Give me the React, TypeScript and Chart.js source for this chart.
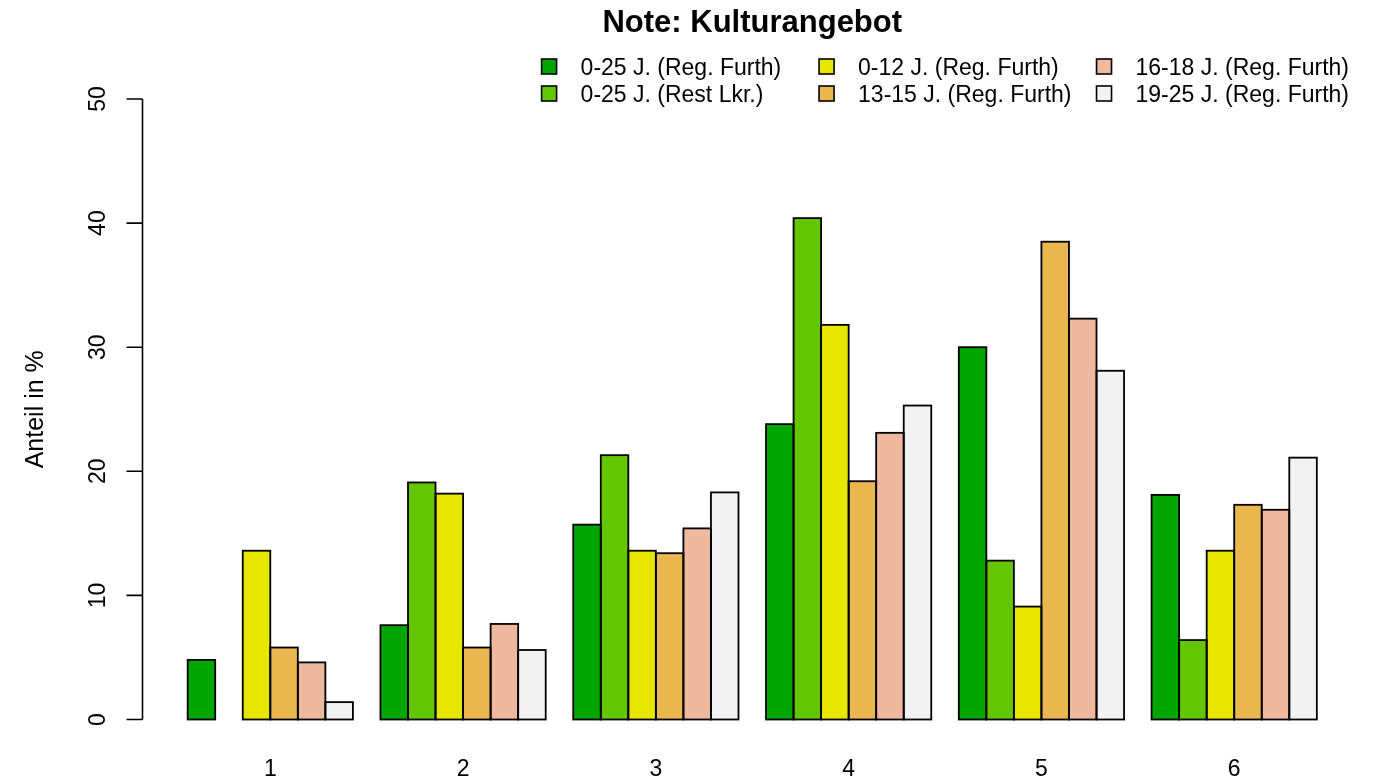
import React, { useEffect, useRef } from 'react';
import { Chart, registerables } from 'chart.js';

Chart.register(...registerables);

// ---- data ----
const categories = ['1', '2', '3', '4', '5', '6'];
const seriesLabels = [
  '0-25 J. (Reg. Furth)',
  '0-25 J. (Rest Lkr.)',
  '0-12 J. (Reg. Furth)',
  '13-15 J. (Reg. Furth)',
  '16-18 J. (Reg. Furth)',
  '19-25 J. (Reg. Furth)',
];
const seriesColors = ['#00A600', '#63C600', '#E6E600', '#EAB64E', '#EEB99F', '#F2F2F2'];
const furth0to25 = [4.8, 7.6, 15.7, 23.8, 30.0, 18.1];
const restLkr0to25 = [null, 19.1, 21.3, 40.4, 12.8, 6.4];
const furth0to12 = [13.6, 18.2, 13.6, 31.8, 9.1, 13.6];
const furth13to15 = [5.8, 5.8, 13.4, 19.2, 38.5, 17.3];
const furth16to18 = [4.6, 7.7, 15.4, 23.1, 32.3, 16.9];
const furth19to25 = [1.4, 5.6, 18.3, 25.3, 28.1, 21.1];
const seriesValues = [furth0to25, restLkr0to25, furth0to12, furth13to15, furth16to18, furth19to25];
const yTicks = [0, 10, 20, 30, 40, 50];
const chartTitle = 'Note: Kulturangebot';
const yAxisTitle = 'Anteil in %';

const FONT = '"Liberation Sans", Arial, Helvetica, sans-serif';

// R barplot geometry: 6 bars + 1 space per group, 4% extension of range
const barsPerGroup = seriesValues.length;
const groupUnits = barsPerGroup + 1;
const totalSpan = categories.length * groupUnits - 1; // from first bar left to last bar right
const sidePad = (barsPerGroup / 2 + 0.04 * totalSpan) / groupUnits;

const rPlugin = {
  id: 'rStyle',
  beforeDraw(chart: any) {
    const ctx = chart.ctx;
    ctx.save();
    ctx.fillStyle = '#ffffff';
    ctx.fillRect(0, 0, chart.width, chart.height);
    ctx.restore();
  },
  afterDatasetsDraw(chart: any) {
    const ctx = chart.ctx;
    ctx.save();
    ctx.strokeStyle = '#000000';
    ctx.lineWidth = 1.8;
    chart.data.datasets.forEach((ds: any, di: number) => {
      const meta = chart.getDatasetMeta(di);
      meta.data.forEach((el: any, i: number) => {
        const v = ds.data[i] && ds.data[i].y;
        if (v === null || v === undefined) return;
        const p = el.getProps(['x', 'y', 'base', 'width'], true);
        ctx.strokeRect(p.x - p.width / 2, p.y, p.width, p.base - p.y);
      });
    });
    ctx.restore();
  },
  afterDraw(chart: any) {
    const ctx = chart.ctx;
    const area = chart.chartArea;
    const ys = chart.scales.y;
    const xs = chart.scales.x;
    ctx.save();
    ctx.fillStyle = '#000';
    ctx.strokeStyle = '#000';
    ctx.lineWidth = 1.6;

    // y axis
    const y0 = ys.getPixelForValue(yTicks[0]);
    const y1 = ys.getPixelForValue(yTicks[yTicks.length - 1]);
    const ax = area.left;
    ctx.beginPath();
    ctx.moveTo(ax, y0);
    ctx.lineTo(ax, y1);
    yTicks.forEach((t) => {
      const py = ys.getPixelForValue(t);
      ctx.moveTo(ax, py);
      ctx.lineTo(ax - 16, py);
    });
    ctx.stroke();

    ctx.font = `23px ${FONT}`;
    ctx.textAlign = 'center';
    ctx.textBaseline = 'alphabetic';
    yTicks.forEach((t) => {
      const py = ys.getPixelForValue(t);
      ctx.save();
      ctx.translate(ax - 37.5, py);
      ctx.rotate(-Math.PI / 2);
      ctx.fillText(String(t), 0, 0);
      ctx.restore();
    });

    // y axis title
    ctx.font = `25px ${FONT}`;
    ctx.save();
    ctx.translate(42.5, (y0 + y1) / 2);
    ctx.rotate(-Math.PI / 2);
    ctx.fillText(yAxisTitle, 0, 0);
    ctx.restore();

    // x labels
    ctx.font = `23px ${FONT}`;
    categories.forEach((c, i) => {
      const px = xs.getPixelForValue(i + 1);
      ctx.fillText(c, px, area.bottom + 56);
    });

    // title
    ctx.font = `bold 31px ${FONT}`;
    ctx.fillText(chartTitle, (area.left + area.right) / 2, 31.5);

    // legend (column-wise, 3 columns x 2 rows, top right)
    ctx.font = `23px ${FONT}`;
    const widths = seriesLabels.map((s) => ctx.measureText(s).width);
    const maxW = Math.max(...widths);
    const boxToText = 39;
    const colGap = 25;
    const colStep = boxToText + maxW + colGap;
    const nCols = 3;
    const legendRight = chart.width - 27;
    const firstBoxX = legendRight - boxToText - maxW - (nCols - 1) * colStep;
    const rowY = [66.5, 93.5];
    const box = 15;
    ctx.textAlign = 'left';
    seriesLabels.forEach((lab, k) => {
      const col = Math.floor(k / 2);
      const row = k % 2;
      const bx = firstBoxX + col * colStep;
      const cy = rowY[row];
      ctx.fillStyle = seriesColors[k];
      ctx.fillRect(bx, cy - box / 2, box, box);
      ctx.lineWidth = 1.6;
      ctx.strokeStyle = '#000';
      ctx.strokeRect(bx, cy - box / 2, box, box);
      ctx.fillStyle = '#000';
      ctx.fillText(lab, bx + boxToText, cy + 8);
    });
    ctx.restore();
  },
};

export default function App() {
  const canvasRef = useRef<HTMLCanvasElement | null>(null);

  useEffect(() => {
    document.body.style.margin = '0';
    const canvas = canvasRef.current;
    if (!canvas) return;
    const chart = new Chart(canvas, {
      type: 'bar',
      data: {
        datasets: seriesValues.map((vals, si) => ({
          label: seriesLabels[si],
          data: vals.map((v, i) => ({ x: i + 1, y: v })),
          backgroundColor: seriesColors[si],
          borderWidth: 0,
          categoryPercentage: barsPerGroup / groupUnits,
          barPercentage: 1,
        })),
      },
      options: {
        responsive: false,
        animation: false,
        devicePixelRatio: 1,
        layout: { padding: { left: 142.5, top: 99, right: 14, bottom: 59.5 } },
        plugins: {
          legend: { display: false },
          title: { display: false },
          tooltip: { enabled: false },
        },
        scales: {
          x: {
            type: 'linear',
            display: false,
            offset: false,
            grid: { offset: false },
            min: 1 - sidePad,
            max: categories.length + sidePad,
            afterBuildTicks: (scale: any) => {
              scale.ticks = categories.map((_, i) => ({ value: i + 1 }));
            },
          },
          y: {
            display: false,
            min: yTicks[0],
            max: yTicks[yTicks.length - 1],
          },
        },
      },
      plugins: [rPlugin],
    } as any);
    return () => chart.destroy();
  }, []);

  return (
    <div style={{ width: 1376, height: 779 }}>
      <canvas ref={canvasRef} width={1376} height={779} style={{ display: 'block' }} />
    </div>
  );
}
